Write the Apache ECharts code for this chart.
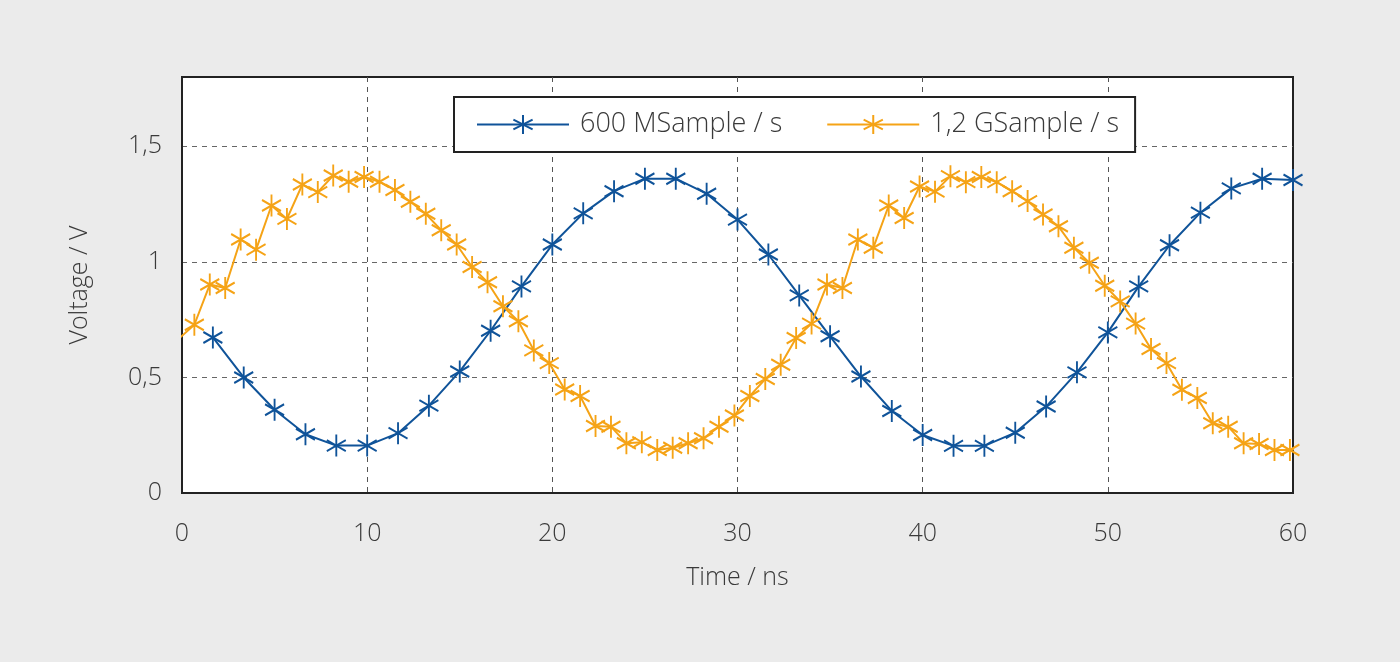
<!DOCTYPE html>
<html>
<head>
<meta charset="utf-8">
<script src="https://cdn.jsdelivr.net/npm/echarts@6/dist/echarts.min.js"></script>
<style>
  html, body { margin: 0; padding: 0; background: #ebebeb; }
  #chart { width: 1400px; height: 662px; }
</style>
</head>
<body>
<div id="chart"></div>
<script>
// sample times (ns) and voltages (V)
const slowTime = [1.667, 3.333, 5, 6.667, 8.333, 10, 11.667, 13.333, 15, 16.667, 18.333, 20,
    21.667, 23.333, 25, 26.667, 28.333, 30, 31.667, 33.333, 35, 36.667, 38.333, 40,
    41.667, 43.333, 45, 46.667, 48.333, 50, 51.667, 53.333, 55, 56.667, 58.333, 60];
const slowVolt = [0.673, 0.500, 0.360, 0.254, 0.205, 0.205, 0.259, 0.378, 0.526, 0.702, 0.894, 1.075,
    1.210, 1.306, 1.360, 1.360, 1.295, 1.183, 1.032, 0.855, 0.678, 0.504, 0.355, 0.251,
    0.204, 0.204, 0.261, 0.374, 0.522, 0.695, 0.894, 1.072, 1.213, 1.318, 1.360, 1.354];

const fastTime = [-0.167, 0.667, 1.5, 2.333, 3.167, 4, 4.833, 5.667, 6.5, 7.333, 8.167, 9, 9.833,
    10.667, 11.5, 12.333, 13.167, 14, 14.833, 15.667, 16.5, 17.333, 18.167, 19, 19.833,
    20.667, 21.5, 22.333, 23.167, 24, 24.833, 25.667, 26.5, 27.333, 28.167, 29, 29.833,
    30.667, 31.5, 32.333, 33.167, 34, 34.833, 35.667, 36.5, 37.333, 38.167, 39, 39.833,
    40.667, 41.5, 42.333, 43.167, 44, 44.833, 45.667, 46.5, 47.333, 48.167, 49, 49.833,
    50.667, 51.5, 52.333, 53.167, 54, 54.833, 55.667, 56.5, 57.333, 58.167, 59, 59.833, 60.667];
const fastVolt = [0.668, 0.728, 0.902, 0.887, 1.097, 1.053, 1.244, 1.186, 1.335, 1.302, 1.374, 1.347, 1.367,
    1.347, 1.311, 1.260, 1.208, 1.137, 1.075, 0.978, 0.912, 0.808, 0.743, 0.617, 0.562,
    0.448, 0.420, 0.290, 0.287, 0.215, 0.220, 0.186, 0.196, 0.215, 0.237, 0.287, 0.335,
    0.420, 0.493, 0.555, 0.671, 0.733, 0.902, 0.887, 1.097, 1.061, 1.244, 1.190, 1.326,
    1.304, 1.371, 1.345, 1.367, 1.345, 1.306, 1.263, 1.205, 1.154, 1.061, 0.996, 0.897,
    0.829, 0.733, 0.623, 0.562, 0.447, 0.411, 0.302, 0.287, 0.215, 0.212, 0.186, 0.186, 0.200];

const seriesNames = ['600 MSample / s', '1,2 GSample / s'];
const xTicks = [0, 10, 20, 30, 40, 50, 60];

const blue = '#0f5399';
const orange = '#f5a316';
const fontFamily = '"Open Sans", Lato, sans-serif';
// six-armed asterisk like the matlab '*' marker
const star = 'path://M0,-10L0,10M-8.66,-5L8.66,5M-8.66,5L8.66,-5';

let pairs = function (xs, ys) {
    return xs.map((x, i) => [x, ys[i]]);
};
let comma = function (v) {
    return String(v).replace('.', ',');
};

let lineSeries = function (name, color, data) {
    return {
        name: name,
        type: 'line',
        data: data,
        clip: true,
        symbol: star,
        symbolSize: [19, 22],
        showAllSymbol: true,
        lineStyle: { color: color, width: 2 },
        itemStyle: { color: color, borderColor: color, borderWidth: 2 },
        emphasis: { disabled: true },
        animation: false
    };
};

let chart = echarts.init(document.getElementById('chart'));
chart.setOption({
    backgroundColor: '#ebebeb',
    animation: false,
    textStyle: { fontFamily: fontFamily },
    grid: {
        left: 182, right: 107, top: 77, bottom: 169,
        show: true,
        backgroundColor: '#ffffff',
        borderColor: '#222222',
        borderWidth: 2
    },
    legend: {
        data: seriesNames,
        left: 454, top: 97,
        padding: [14, 16, 14, 22],
        backgroundColor: '#ffffff',
        borderColor: '#222222',
        borderWidth: 2,
        itemWidth: 92,
        itemHeight: 24,
        itemGap: 44,
        textStyle: {
            fontSize: 27, color: '#3a3a3a', fontWeight: 300, fontFamily: fontFamily,
            padding: [0, 0, 0, 6]
        }
    },
    xAxis: {
        type: 'value',
        min: xTicks[0], max: xTicks[xTicks.length - 1], interval: 10,
        name: 'Time / ns',
        nameLocation: 'middle',
        nameGap: 72,
        nameTextStyle: { fontSize: 25, color: '#3a3a3a', fontWeight: 300 },
        axisLine: { show: true, onZero: false, lineStyle: { color: '#222222', width: 2 } },
        axisTick: { show: false },
        axisLabel: { fontSize: 25, color: '#3a3a3a', fontWeight: 300, margin: 28, formatter: comma },
        splitLine: {
            show: true, showMinLine: false, showMaxLine: false,
            lineStyle: { color: '#555555', type: [5, 5], width: 1 }
        }
    },
    yAxis: {
        type: 'value',
        min: 0, max: 1.8, interval: 0.5,
        name: 'Voltage / V',
        nameLocation: 'middle',
        nameGap: 90,
        nameTextStyle: { fontSize: 25, color: '#3a3a3a', fontWeight: 300 },
        axisLine: { show: true, lineStyle: { color: '#222222', width: 2 } },
        axisTick: { show: false },
        axisLabel: { fontSize: 25, color: '#3a3a3a', fontWeight: 300, margin: 20, showMaxLabel: false, formatter: comma },
        splitLine: {
            show: true, showMinLine: false, showMaxLine: false,
            lineStyle: { color: '#666666', type: [5, 5], width: 1 }
        }
    },
    series: [
        lineSeries(seriesNames[0], blue, pairs(slowTime, slowVolt)),
        lineSeries(seriesNames[1], orange, pairs(fastTime, fastVolt))
    ]
});
</script>
</body>
</html>
